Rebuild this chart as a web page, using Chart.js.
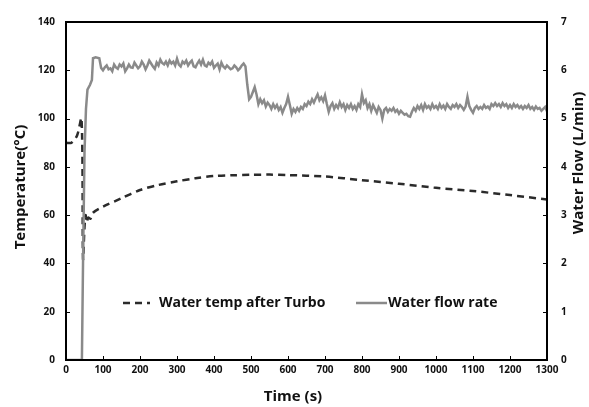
<!DOCTYPE html>
<html><head><meta charset="utf-8">
<script src="https://cdn.jsdelivr.net/npm/chart.js@4/dist/chart.umd.min.js"></script>
<style>html,body{margin:0;padding:0;background:#fff}#wrap{width:589px;height:407px;position:relative}</style>
</head><body><div id="wrap"><canvas id="c" width="589" height="407"></canvas></div>
<script>
const timeTicks = [0,100,200,300,400,500,600,700,800,900,1000,1100,1200,1300];
const tempTicks = [0,20,40,60,80,100,120,140];
const flowTicks = [0,1,2,3,4,5,6,7];

const tempTimes  = [0,15,30,42,46,50,53,56,60,66,73,100,150,200,250,300,350,400,450,500,550,600,700,800,900,1000,1100,1200,1300];
const tempValues = [90,90,93,100,42,55,60,57,59,58.5,61,63.5,67,70.4,72.5,74,75.3,76.2,76.5,76.7,76.8,76.6,76,74.5,73,71.3,70,68.3,66.5];

const flowTimes = [
  0,10,20,30,40,43,46,50,54,58,65,70,73,80,90,95,
  100,105,110,115,120,125,130,135,140,145,150,155,160,165,170,175,180,185,190,195,
  200,205,210,215,220,225,230,235,240,245,250,255,260,265,270,275,280,285,290,295,
  300,305,310,315,320,325,330,335,340,345,350,355,360,365,370,375,380,385,390,395,
  400,405,410,415,420,425,430,435,440,445,450,455,460,465,470,475,480,485,490,495,
  500,505,510,515,520,525,530,535,540,545,550,555,560,565,570,575,580,585,590,595,
  600,605,610,615,620,625,630,635,640,645,650,655,660,665,670,675,680,685,690,695,
  700,705,710,715,720,725,730,735,740,745,750,755,760,765,770,775,780,785,790,795,
  800,805,810,815,820,825,830,835,840,845,850,855,860,865,870,875,880,885,890,895,
  900,905,910,915,920,925,930,935,940,945,950,955,960,965,970,975,980,985,990,995,
  1000,1005,1010,1015,1020,1025,1030,1035,1040,1045,1050,1055,1060,1065,1070,1075,1080,1085,1090,1095,
  1100,1105,1110,1115,1120,1125,1130,1135,1140,1145,1150,1155,1160,1165,1170,1175,1180,1185,1190,1195,
  1200,1205,1210,1215,1220,1225,1230,1235,1240,1245,1250,1255,1260,1265,1270,1275,1280,1285,1290,1295,
  1300];
const flowValues = [
  0,0,0,0,0,0,2.0,4.3,5.2,5.6,5.7,5.8,6.25,6.27,6.25,6.05,
  6.0,6.06,6.1,6.02,6.04,5.98,6.12,6.06,6.03,6.12,6.08,6.14,5.98,6.04,6.12,6.06,6.05,6.16,6.1,6.04,
  6.08,6.18,6.12,6.02,6.1,6.2,6.14,6.08,6.03,6.16,6.1,6.22,6.15,6.12,6.18,6.1,6.2,6.14,6.18,6.1,
  6.24,6.12,6.08,6.18,6.14,6.2,6.1,6.16,6.2,6.08,6.06,6.14,6.2,6.12,6.22,6.1,6.08,6.16,6.12,6.18,
  6.05,6.1,6.14,6.02,6.16,6.08,6.04,6.1,6.06,6.02,6.04,6.1,6.06,6.0,6.04,6.1,6.14,6.08,5.7,5.4,
  5.45,5.55,5.65,5.5,5.3,5.4,5.32,5.38,5.25,5.33,5.28,5.2,5.3,5.22,5.28,5.18,5.24,5.12,5.22,5.3,
  5.45,5.28,5.1,5.2,5.14,5.22,5.16,5.24,5.2,5.3,5.26,5.35,5.3,5.4,5.33,5.42,5.5,5.38,5.44,5.36,
  5.48,5.3,5.14,5.26,5.32,5.2,5.28,5.22,5.34,5.24,5.3,5.18,5.28,5.22,5.3,5.2,5.26,5.18,5.3,5.24,
  5.5,5.32,5.38,5.22,5.3,5.16,5.28,5.2,5.12,5.24,5.18,5.0,5.18,5.22,5.14,5.2,5.16,5.22,5.14,5.18,
  5.1,5.16,5.12,5.08,5.1,5.05,5.04,5.14,5.22,5.16,5.26,5.2,5.28,5.18,5.3,5.22,5.26,5.2,5.3,5.22,
  5.26,5.2,5.3,5.22,5.27,5.2,5.3,5.24,5.2,5.28,5.24,5.3,5.22,5.28,5.24,5.18,5.25,5.45,5.26,5.18,
  5.12,5.22,5.26,5.2,5.24,5.2,5.28,5.22,5.25,5.2,5.3,5.26,5.32,5.26,5.3,5.24,5.32,5.26,5.3,5.22,
  5.28,5.22,5.3,5.24,5.28,5.22,5.26,5.2,5.26,5.22,5.28,5.2,5.24,5.18,5.25,5.2,5.22,5.16,5.2,5.24,
  5.15];

const seriesNames = ['Water temp after Turbo','Water flow rate'];
const xTitle = 'Time (s)';
const yTitle = 'Temperature(°C)';
const y2Title = 'Water Flow (L/min)';

const FONT = '"Open Sans", Lato, sans-serif';
const tickFont = {family: FONT, size: 10, weight: 'bold'};

const framePlugin = {
  id: 'frame',
  afterDraw(chart) {
    const {ctx, chartArea: a, scales} = chart;
    ctx.save();
    ctx.strokeStyle = '#000';
    ctx.lineWidth = 2;
    ctx.strokeRect(a.left, a.top, a.right - a.left, a.bottom - a.top);
    ctx.lineWidth = 1;
    ctx.beginPath();
    timeTicks.forEach(v => { const px = Math.round(scales.x.getPixelForValue(v)) + 0.5; ctx.moveTo(px, a.bottom); ctx.lineTo(px, a.bottom - 4); });
    tempTicks.forEach(v => { const py = Math.round(scales.y.getPixelForValue(v)) + 0.5; ctx.moveTo(a.left, py); ctx.lineTo(a.left + 4, py); });
    flowTicks.forEach(v => { const py = Math.round(scales.y2.getPixelForValue(v)) + 0.5; ctx.moveTo(a.right, py); ctx.lineTo(a.right - 4, py); });
    ctx.stroke();
    ctx.restore();
    // axis titles
    ctx.save();
    ctx.fillStyle = '#111';
    ctx.font = 'bold 15px ' + FONT;
    ctx.textAlign = 'center';
    ctx.textBaseline = 'middle';
    ctx.fillText(xTitle, 293, 397);
    ctx.save();
    ctx.translate(21, 187);
    ctx.rotate(-Math.PI / 2);
    ctx.fillText(yTitle, 0, 0);
    ctx.restore();
    ctx.save();
    ctx.translate(579, 163);
    ctx.rotate(-Math.PI / 2);
    ctx.fillText(y2Title, 0, 0);
    ctx.restore();
    ctx.restore();
    // legend
    ctx.save();
    const ly = 303;
    ctx.font = 'bold 14px ' + FONT;
    ctx.fillStyle = '#111';
    ctx.textBaseline = 'middle';
    ctx.textAlign = 'left';
    ctx.strokeStyle = '#2b2b2b';
    ctx.lineWidth = 2.5;
    ctx.setLineDash([7,5]);
    ctx.beginPath(); ctx.moveTo(123, ly); ctx.lineTo(150, ly); ctx.stroke();
    ctx.setLineDash([]);
    ctx.fillText(seriesNames[0], 159, ly);
    ctx.strokeStyle = '#8a8a8a';
    ctx.lineWidth = 2.5;
    ctx.beginPath(); ctx.moveTo(356, ly); ctx.lineTo(387, ly); ctx.stroke();
    ctx.fillText(seriesNames[1], 388, ly);
    ctx.restore();
  }
};

new Chart(document.getElementById('c'), {
  type: 'line',
  data: {
    datasets: [
      {
        label: seriesNames[1],
        data: flowTimes.map((t, i) => ({x: t, y: flowValues[i]})),
        yAxisID: 'y2',
        borderColor: '#8a8a8a',
        borderWidth: 2.5,
        pointRadius: 0,
        tension: 0,
        fill: false
      },
      {
        label: seriesNames[0],
        data: tempTimes.map((t, i) => ({x: t, y: tempValues[i]})),
        yAxisID: 'y',
        borderColor: '#2b2b2b',
        borderWidth: 2.5,
        borderDash: [7,5],
        pointRadius: 0,
        tension: 0.3,
        fill: false
      }
    ]
  },
  options: {
    responsive: false,
    animation: false,
    layout: {padding: {top: 22, left: 0, right: 0, bottom: 0}},
    plugins: {legend: {display: false}, tooltip: {enabled: false}},
    scales: {
      x: {
        type: 'linear', min: 0, max: 1300,
        afterBuildTicks: s => { s.ticks = timeTicks.map(v => ({value: v})); },
        afterFit: s => { s.height = 47; },
        grid: {display: false, drawTicks: false},
        border: {display: false},
        ticks: {font: tickFont, color: '#111', padding: 4, maxRotation: 0, autoSkip: false, callback: v => String(v)}
      },
      y: {
        position: 'left', min: 0, max: 140,
        afterBuildTicks: s => { s.ticks = tempTicks.map(v => ({value: v})); },
        afterFit: s => { s.width = 66; },
        grid: {display: false, drawTicks: false},
        border: {display: false},
        ticks: {font: tickFont, color: '#111', padding: 11, callback: v => String(v)}
      },
      y2: {
        position: 'right', min: 0, max: 7,
        afterBuildTicks: s => { s.ticks = flowTicks.map(v => ({value: v})); },
        afterFit: s => { s.width = 42; },
        grid: {display: false, drawTicks: false},
        border: {display: false},
        ticks: {font: tickFont, color: '#111', padding: 14, callback: v => String(v)}
      }
    }
  },
  plugins: [framePlugin]
});
</script>
</body></html>
